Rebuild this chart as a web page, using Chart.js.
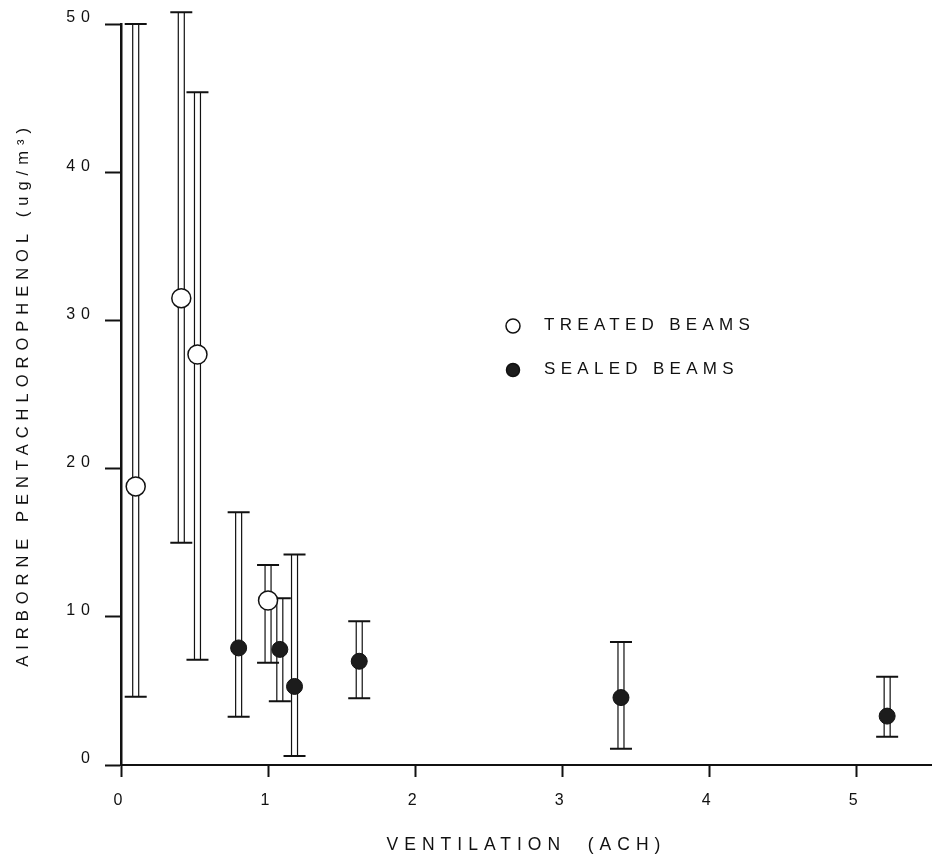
<!DOCTYPE html>
<html>
<head>
<meta charset="utf-8">
<script src="https://cdn.jsdelivr.net/npm/chart.js@4.4.0/dist/chart.umd.min.js"></script>
<style>
  html, body { margin: 0; padding: 0; background: #fff; }
  #wrap { width: 932px; height: 858px; }
</style>
</head>
<body>
<div id="wrap"><canvas id="grafico"></canvas></div>
<script>
// ventilation (ACH) vs airborne PCP (ug/m3), low/high = ends of the error bars
const treatedX = [0.10, 0.41, 0.52, 1.00]
const treatedY = [18.8, 31.5, 27.7, 11.1]
const treatedLow = [4.6, 15.0, 7.1, 6.9]
const treatedHigh = [50.0, 50.8, 45.4, 13.5]

const sealedX = [0.80, 1.08, 1.18, 1.62, 3.40, 5.21]
const sealedY = [7.9, 7.8, 5.3, 7.0, 4.55, 3.3]
const sealedLow = [3.25, 4.3, 0.6, 4.5, 1.1, 1.9]
const sealedHigh = [17.05, 11.25, 14.2, 9.7, 8.3, 5.95]

const xTicks = [0, 1, 2, 3, 4, 5]
const yTicks = [0, 10, 20, 30, 40, 50]

const ink = '#111'
const fam = '"Liberation Sans", Arial, Helvetica, sans-serif'

function pts(xs, ys, lo, hi) {
  return xs.map((v, i) => ({ x: v, y: ys[i], yMin: lo[i], yMax: hi[i] }))
}

// wide letter spacing like the lettering of the original
const spacing = {
  id: 'spacing',
  beforeLayout(chart) { chart.ctx.letterSpacing = '6px' },
  beforeDraw(chart) { chart.ctx.letterSpacing = '6px' }
}

// double-line error bars with caps
const errorBars = {
  id: 'errorBars',
  beforeDatasetsDraw(chart) {
    const ctx = chart.ctx
    const xs = chart.scales.x, ys = chart.scales.y
    ctx.save()
    ctx.strokeStyle = ink
    chart.data.datasets.forEach(ds => {
      ds.data.forEach(p => {
        const px = xs.getPixelForValue(p.x)
        const top = ys.getPixelForValue(p.yMax)
        const bot = ys.getPixelForValue(p.yMin)
        ctx.lineWidth = 1.2
        ctx.beginPath()
        ctx.moveTo(px - 3, top); ctx.lineTo(px - 3, bot)
        ctx.moveTo(px + 3, top); ctx.lineTo(px + 3, bot)
        ctx.stroke()
        ctx.lineWidth = 2
        ctx.beginPath()
        ctx.moveTo(px - 11, top); ctx.lineTo(px + 11, top)
        ctx.moveTo(px - 11, bot); ctx.lineTo(px + 11, bot)
        ctx.stroke()
      })
    })
    ctx.restore()
  }
}

// legend inside the plot, like the figure
const insideLegend = {
  id: 'insideLegend',
  afterDraw(chart) {
    const ctx = chart.ctx
    ctx.save()
    ctx.letterSpacing = '5.3px'
    ctx.font = '17px ' + fam
    ctx.textBaseline = 'middle'
    const rows = [326, 370]
    chart.data.datasets.forEach((ds, i) => {
      const cy = rows[i]
      ctx.beginPath()
      ctx.arc(513, cy, i == 0 ? 7 : 6.5, 0, Math.PI * 2)
      ctx.fillStyle = ds.backgroundColor
      ctx.fill()
      ctx.lineWidth = 1.5
      ctx.strokeStyle = ink
      ctx.stroke()
      ctx.fillStyle = ink
      ctx.fillText(ds.label, 544, cy - 1)
    })
    ctx.restore()
  }
}

const canvas = document.getElementById('grafico')
const ctx = canvas.getContext('2d')

const chart = new Chart(ctx, {
  type: 'scatter',
  data: {
    datasets: [{
      label: 'TREATED BEAMS',
      data: pts(treatedX, treatedY, treatedLow, treatedHigh),
      backgroundColor: '#fff',
      borderColor: ink,
      borderWidth: 1.5,
      pointRadius: 9.5,
      clip: false
    }, {
      label: 'SEALED BEAMS',
      data: pts(sealedX, sealedY, sealedLow, sealedHigh),
      backgroundColor: '#1c1c1c',
      borderColor: ink,
      borderWidth: 1,
      pointRadius: 8,
      clip: false
    }]
  },
  options: {
    responsive: true,
    maintainAspectRatio: false,
    animation: false,
    events: [],
    layout: { autoPadding: false, padding: { top: 24, right: 0, left: 0, bottom: 0 } },
    plugins: { legend: { display: false }, tooltip: { enabled: false } },
    scales: {
      x: {
        type: 'linear',
        min: 0,
        max: 5.515,
        afterBuildTicks: s => { s.ticks = xTicks.map(v => ({ value: v })) },
        afterFit: s => { s.height = 93; s.paddingLeft = 0; s.paddingRight = 0 },
        border: { display: true, color: ink, width: 2 },
        grid: { drawOnChartArea: false, drawTicks: true, tickLength: 12, tickColor: ink, tickWidth: 2 },
        ticks: { color: ink, padding: 14, font: { family: fam, size: 16 } },
        title: {
          display: true,
          text: 'VENTILATION  (ACH)',
          color: ink,
          padding: { top: 0, bottom: 2 },
          font: { family: fam, size: 17.5 }
        }
      },
      y: {
        type: 'linear',
        min: 0,
        max: 50,
        afterBuildTicks: s => { s.ticks = yTicks.map(v => ({ value: v })) },
        afterFit: s => { s.width = 121; s.paddingTop = 0; s.paddingBottom = 0 },
        border: { display: true, color: ink, width: 2.5 },
        grid: { drawOnChartArea: false, drawTicks: true, tickLength: 16, tickColor: ink, tickWidth: 2 },
        ticks: { color: ink, padding: 9, labelOffset: -6, font: { family: fam, size: 16 } },
        title: {
          display: true,
          text: 'AIRBORNE PENTACHLOROPHENOL (ug/m³)',
          color: ink,
          padding: { top: 14, bottom: 0 },
          font: { family: fam, size: 16.5 }
        }
      }
    }
  },
  plugins: [spacing, errorBars, insideLegend]
})
</script>
</body>
</html>
